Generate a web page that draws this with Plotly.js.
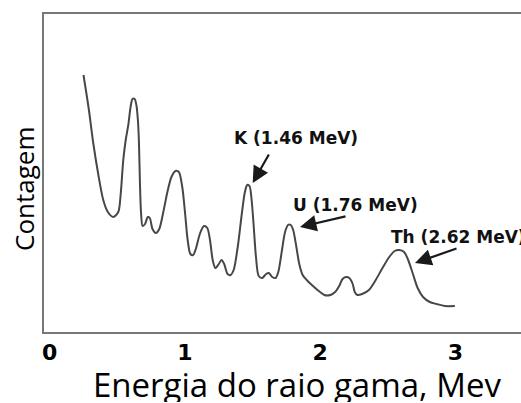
<!DOCTYPE html>
<html>
<head>
<meta charset="utf-8">
<script src="https://cdn.plot.ly/plotly-3.0.1.min.js"></script>
<style>html,body{margin:0;padding:0;background:#fff;}#chart{width:521px;height:403px;}</style>
</head>
<body>
<div id="chart"></div>
<script>
// Gamma-ray spectrum (energy in MeV, counts in arbitrary units)
const energy = [0.25, 0.29, 0.322, 0.36, 0.396, 0.43, 0.47, 0.507, 0.525, 0.544, 0.562, 0.581, 0.598, 0.612, 0.628, 0.642, 0.653, 0.66, 0.667, 0.675, 0.687, 0.705, 0.725, 0.74, 0.76, 0.785, 0.81, 0.84, 0.87, 0.9, 0.93, 0.955, 0.98, 1.0, 1.02, 1.04, 1.06, 1.08, 1.11, 1.14, 1.165, 1.185, 1.205, 1.225, 1.25, 1.27, 1.29, 1.315, 1.337, 1.36, 1.39, 1.42, 1.443, 1.46, 1.477, 1.492, 1.507, 1.525, 1.545, 1.57, 1.6, 1.62, 1.645, 1.67, 1.69, 1.715, 1.74, 1.762, 1.782, 1.8, 1.82, 1.845, 1.87, 1.9, 1.93, 1.98, 2.03, 2.075, 2.11, 2.14, 2.165, 2.19, 2.215, 2.24, 2.255, 2.275, 2.31, 2.36, 2.41, 2.46, 2.51, 2.55, 2.585, 2.62, 2.65, 2.685, 2.72, 2.76, 2.81, 2.86, 2.92, 2.995];
const counts = [257, 222, 189, 157, 132, 120, 115, 120, 138, 172, 192, 207, 225, 233, 233, 226, 210, 189, 150, 120, 106, 108, 115, 114, 103, 99, 103, 120, 140, 155, 161, 160, 145, 120, 92, 78, 77, 83, 98, 106, 104, 92, 72, 64, 68, 72, 68, 58, 57, 62, 85, 118, 140, 147, 146, 133, 108, 75, 56, 54, 58, 59, 55, 54, 60, 80, 100, 107, 107, 102, 88, 68, 57, 52, 48, 42, 37, 37, 40, 46, 53, 55, 54, 48, 40, 37, 38, 42, 52, 64, 75, 81, 82, 80, 72, 58, 44, 35, 30, 28, 26, 26];
const tickValues = [0, 1, 2, 3];
const tickLabels = ['0', '1', '2', '3'];
const peakLabels = ['K (1.46 MeV)', 'U (1.76 MeV)', 'Th (2.62 MeV)'];
const xTitle = 'Energia do raio gama, Mev';
const yTitle = 'Contagem';

const PLOT = {l: 44, t: 14, w: 477, h: 318};
const px = x => (x - PLOT.l) / PLOT.w;
const py = y => (PLOT.t + PLOT.h - y) / PLOT.h;

const labelFont = {family: 'DejaVu Sans', size: 17, color: '#111', weight: 'bold'};
const arrowStyle = {showarrow: true, arrowhead: 2, arrowsize: 1.5, arrowwidth: 2.2, arrowcolor: '#1a1a1a', axref: 'pixel', ayref: 'pixel', standoff: 0, text: ''};

const annotations = [
  {xref: 'paper', yref: 'paper', x: px(295.5), y: py(138), text: peakLabels[0], showarrow: false, font: labelFont, xanchor: 'center', yanchor: 'middle'},
  {xref: 'paper', yref: 'paper', x: px(355), y: py(205), text: peakLabels[1], showarrow: false, font: labelFont, xanchor: 'center', yanchor: 'middle'},
  {xref: 'paper', yref: 'paper', x: px(389), y: py(236.5), text: peakLabels[2], showarrow: false, font: labelFont, xanchor: 'left', yanchor: 'middle'},
  Object.assign({xref: 'paper', yref: 'paper', x: px(252.7), y: py(183), ax: 17, ay: -30}, arrowStyle),
  Object.assign({xref: 'paper', yref: 'paper', x: px(300), y: py(227), ax: 47, ay: -11}, arrowStyle),
  Object.assign({xref: 'paper', yref: 'paper', x: px(415), y: py(263), ax: 43, ay: -15}, arrowStyle),
  {xref: 'paper', yref: 'paper', x: px(296.7), y: py(384), text: xTitle, showarrow: false, height: 36,
   font: {family: 'Open Sans', size: 33, color: '#000'}, xanchor: 'center', yanchor: 'middle'},
  {xref: 'paper', yref: 'paper', x: px(24), y: py(189), text: yTitle, showarrow: false, textangle: -90,
   font: {family: 'Open Sans', size: 26, color: '#000'}, xanchor: 'center', yanchor: 'middle'}
];

const trace = {
  x: energy, y: counts, type: 'scatter', mode: 'lines',
  line: {color: '#474747', width: 2, shape: 'spline', smoothing: 0.8},
  hoverinfo: 'skip'
};

const layout = {
  width: 521, height: 403,
  margin: {l: PLOT.l, t: PLOT.t, r: 0, b: 403 - PLOT.t - PLOT.h, pad: 0},
  paper_bgcolor: '#fff', plot_bgcolor: '#fff',
  showlegend: false,
  xaxis: {
    range: [-0.042, 3.484], showgrid: false, zeroline: false,
    showline: true, mirror: true, linecolor: '#777', linewidth: 2,
    tickmode: 'array', tickvals: tickValues, ticktext: tickLabels, ticks: '',
    tickfont: {family: 'DejaVu Sans', size: 22, color: '#000', weight: 'bold'}
  },
  yaxis: {
    range: [0, 318], showgrid: false, zeroline: false,
    showline: true, linecolor: '#777', linewidth: 2,
    showticklabels: false, ticks: ''
  },
  annotations: annotations
};

Plotly.newPlot('chart', [trace], layout, {displayModeBar: false, staticPlot: true});
</script>
</body>
</html>
